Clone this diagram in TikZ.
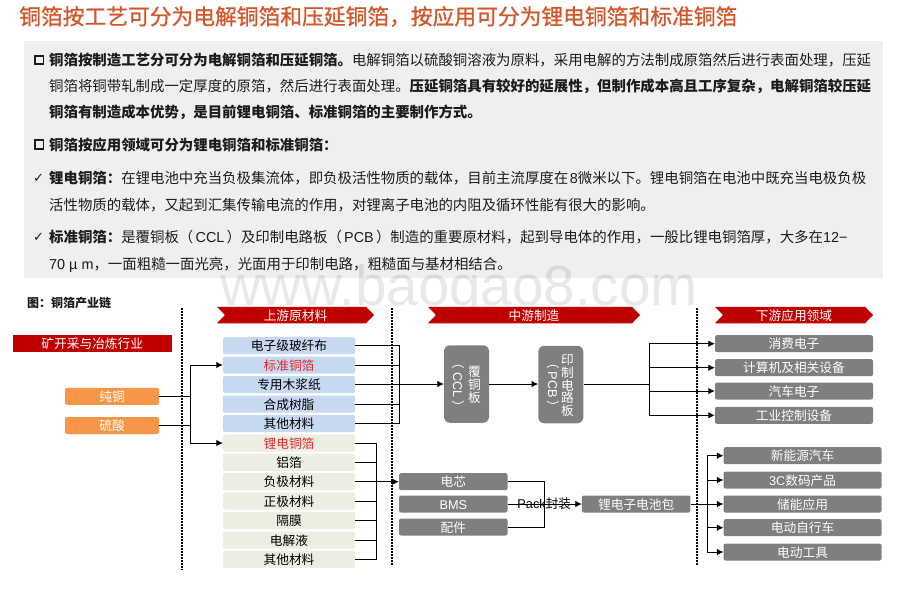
\documentclass[tikz,border=0pt]{standalone}
\usepackage{fontspec}
\setmainfont{Noto Sans CJK SC}
\newfontfamily\latinwm{Liberation Sans}
\newfontfamily\tickfont{DejaVu Sans}
\newfontfamily\headfont[FakeBold=0.9]{Noto Sans CJK SC}
\newcommand{\lat}[1]{{\latinwm #1}}
\usetikzlibrary{arrows.meta,shapes.symbols}
\definecolor{titleorange}{HTML}{D2582B}
\definecolor{panelgrey}{HTML}{EFEFEF}
\definecolor{darkred}{HTML}{C00000}
\definecolor{oreorange}{HTML}{F79646}
\definecolor{upblue}{HTML}{C6D9F1}
\definecolor{upgreen}{HTML}{EBEEE0}
\definecolor{midgrey}{HTML}{7F7F7F}
\definecolor{foilred}{HTML}{E8282B}
\definecolor{bodyink}{HTML}{1C1C1C}
\tikzset{
    bodyline/.style={anchor=west, inner sep=0pt, text=bodyink, text height=13pt, text depth=2pt, font=\fontsize{14.42}{16}\selectfont},
    squaremark/.style={draw=bodyink, line width=1.8pt, minimum size=8.5pt, inner sep=0pt},
    tickmark/.style={inner sep=0pt, text=bodyink, font=\tickfont\fontsize{13}{14}\selectfont},
    boxitem/.style={rounded corners=2pt, inner sep=0pt, minimum height=17pt, text height=11.5pt, text depth=1.5pt, font=\fontsize{12.7}{14}\selectfont},
    blueitem/.style={boxitem, fill=upblue, text=black, minimum width=132pt},
    greenitem/.style={boxitem, fill=upgreen, text=black, minimum width=132pt},
    oreitem/.style={boxitem, fill=oreorange, text=white, minimum width=94pt},
    minebar/.style={boxitem, rounded corners=0pt, fill=darkred, text=white, minimum width=158.5pt},
    banner/.style={signal, signal from=west, signal to=east, signal pointer angle=92, fill=darkred, text=white, inner sep=0pt, minimum height=16.5pt, text height=11.5pt, text depth=1.5pt, font=\fontsize{12.7}{14}\selectfont},
    greyitem/.style={boxitem, fill=midgrey, text=white, minimum width=158pt},
    cellitem/.style={boxitem, fill=midgrey, text=white, minimum width=108.5pt},
    boardbox/.style={fill=midgrey, rounded corners=6pt, minimum width=45pt, minimum height=77.5pt, inner sep=0pt},
    boardtext/.style={text=white, inner sep=0pt, align=center, font=\fontsize{12.7}{12.7}\selectfont},
    conn/.style={draw=black, line width=0.9pt},
    tipconn/.style={conn, -{Latex[length=6.5pt,width=6.5pt]}},
    stageline/.style={draw=black, line width=1.5pt, dash pattern=on 1.5pt off 1.5pt},
}
\begin{document}
\begin{tikzpicture}[x=1pt,y=-1pt]
    \useasboundingbox (0,0) rectangle (920,614);
    % heading and text panel
    \node[anchor=west, inner sep=0pt, text=titleorange, font=\headfont\fontsize{21.76}{24}\selectfont] (heading) at (19,16.5) {铜箔按工艺可分为电解铜箔和压延铜箔，按应用可分为锂电铜箔和标准铜箔};
    \fill[panelgrey] (24,41) rectangle (883,278);
    \node[anchor=base west, inner sep=0pt, text=black, opacity=0.09, font=\latinwm\fontsize{56.5}{60}\selectfont] (watermark) at (220,305) {www.baogao8.com};

    \node[squaremark] (markone) at (39.3,60) {};
    \node[bodyline] (lineone) at (49,60) {\textbf{铜箔按制造工艺分可分为电解铜箔和压延铜箔。}电解铜箔以硫酸铜溶液为原料，采用电解的方法制成原箔然后进行表面处理，压延};
    \node[bodyline] (linetwo) at (49,86) {铜箔将铜带轧制成一定厚度的原箔，然后进行表面处理。\textbf{压延铜箔具有较好的延展性，但制作成本高且工序复杂，电解铜箔较压延}};
    \node[bodyline] (linethree) at (49,112) {\textbf{铜箔有制造成本优势，是目前锂电铜箔、标准铜箔的主要制作方式。}};
    \node[squaremark] (marktwo) at (39.3,144.5) {};
    \node[bodyline] (linefour) at (49,144.5) {\textbf{铜箔按应用领域可分为锂电铜箔和标准铜箔：}};
    \node[tickmark] (tickone) at (38.5,178) {✓};
    \node[bodyline] (linefive) at (49,178) {\textbf{锂电铜箔：}在锂电池中充当负极集流体，即负极活性物质的载体，目前主流厚度在\hspace{1.5pt}\lat{8}微米以下。锂电铜箔在电池中既充当电极负极};
    \node[bodyline] (linesix) at (49,204.5) {活性物质的载体，又起到汇集传输电流的作用，对锂离子电池的内阻及循环性能有很大的影响。};
    \node[tickmark] (ticktwo) at (38.5,237) {✓};
    \node[bodyline] (lineseven) at (49,237) {\textbf{标准铜箔：}是覆铜板（\hspace{2.2pt}\lat{CCL}\hspace{2.2pt}）及印制电路板（\hspace{2.2pt}\lat{PCB}\hspace{2.2pt}）制造的重要原材料，起到导电体的作用，一般比锂电铜箔厚，大多在\lat{12−}};
    \node[bodyline] (lineeight) at (49,263.5) {\lat{70 µ m}，一面粗糙一面光亮，光面用于印制电路，粗糙面与基材相结合。};

    % chain: stage separators and banners
    \node[anchor=west, inner sep=0pt, text=bodyink, font=\bfseries\fontsize{12}{14}\selectfont] (chaintitle) at (27,302.5) {图：铜箔产业链};
    \coordinate (sepatop) at (182,308);
    \coordinate (sepabot) at (182,570);
    \coordinate (sepbtop) at (392,308);
    \coordinate (sepbbot) at (392,565);
    \coordinate (sepctop) at (697,308);
    \coordinate (sepcbot) at (697,565);
    \draw[stageline] (sepatop) -- (sepabot);
    \draw[stageline] (sepbtop) -- (sepbbot);
    \draw[stageline] (sepctop) -- (sepcbot);
    \node[banner, minimum width=157pt] (upstage) at (295.5,315) {上游原材料};
    \node[banner, minimum width=212pt] (midstage) at (534,315) {中游制造};
    \node[banner, minimum width=158pt] (downstage) at (794,315) {下游应用领域};

    % upstream
    \node[minebar] (mining) at (92.25,343.5) {矿开采与冶炼行业};
    \node[oreitem] (purecu) at (112,396.3) {纯铜};
    \node[oreitem] (acid) at (112,425.5) {硫酸};
    \node[blueitem] (glasscloth) at (289,345.7) {电子级玻纤布};
    \node[blueitem] (stdfoil) at (289,365) {\textcolor{foilred}{标准铜箔}};
    \node[blueitem] (woodpulp) at (289,384.5) {专用木浆纸};
    \node[blueitem] (resin) at (289,404) {合成树脂};
    \node[blueitem] (blueother) at (289,423.5) {其他材料};
    \node[greenitem] (lifoil) at (289,443) {\textcolor{foilred}{锂电铜箔}};
    \node[greenitem] (alfoil) at (289,462.3) {铝箔};
    \node[greenitem] (anode) at (289,481.7) {负极材料};
    \node[greenitem] (cathode) at (289,501) {正极材料};
    \node[greenitem] (separator) at (289,520.5) {隔膜};
    \node[greenitem] (electrolyte) at (289,540) {电解液};
    \node[greenitem] (greenother) at (289,559.3) {其他材料};

    % midstream
    \node[boardbox] (ccl) at (466.5,384) {};
    \node[boardtext, rotate=-90] (ccllabel) at (458,385) {（ \lat{CCL} ）};
    \node[boardtext] (ccltext) at (474.5,385) {覆\\铜\\板};
    \node[boardbox] (pcb) at (560.8,384.5) {};
    \node[boardtext, rotate=-90] (pcblabel) at (553,385) {（ \lat{PCB} ）};
    \node[boardtext] (pcbtext) at (567.5,385.5) {印\\制\\电\\路\\板};
    \node[cellitem] (cell) at (453.3,481.7) {电芯};
    \node[cellitem] (bms) at (453.3,504) {\lat{BMS}};
    \node[cellitem] (parts) at (453.3,527) {配件};
    \node[cellitem] (pack) at (636.2,504) {锂电子电池包};

    % downstream
    \node[greyitem] (consumer) at (794,343.7) {消费电子};
    \node[greyitem] (computer) at (794,367.7) {计算机及相关设备};
    \node[greyitem] (carelec) at (794,391) {汽车电子};
    \node[greyitem] (control) at (794,415.3) {工业控制设备};
    \node[greyitem] (newcar) at (802.6,455.7) {新能源汽车};
    \node[greyitem] (threec) at (802.6,480) {\lat{3C}数码产品};
    \node[greyitem] (storage) at (802.6,504) {储能应用};
    \node[greyitem] (ebike) at (802.6,527.7) {电动自行车};
    \node[greyitem] (tools) at (802.6,552) {电动工具};

    % connectors
    \coordinate (orebus) at (190.5,396);
    \draw[conn] (purecu.east) -- (purecu.east -| orebus);
    \draw[conn] (acid.east) -- (acid.east -| orebus);
    \draw[tipconn] (purecu.east -| orebus) |- (stdfoil.west);
    \draw[tipconn] (acid.east -| orebus) |- (lifoil.west);
    \draw[conn] (purecu.east -| orebus) -- (acid.east -| orebus);

    \coordinate (bluebus) at (399.5,384);
    \draw[conn] (glasscloth.east) -| (bluebus);
    \draw[conn] (blueother.east) -| (bluebus);
    \draw[conn] (stdfoil.east) -- (stdfoil.east -| bluebus);
    \draw[conn] (woodpulp.east) -- (woodpulp.east -| bluebus);
    \draw[conn] (resin.east) -- (resin.east -| bluebus);
    \draw[tipconn] (bluebus) -- (ccl.west);
    \draw[tipconn] (ccl.east) -- (pcb.west |- ccl.east);

    \coordinate (pcbbus) at (649,384);
    \draw[conn] (pcb.east |- pcbbus) -- (pcbbus);
    \draw[tipconn] (pcbbus) |- (consumer.west);
    \draw[tipconn] (pcbbus) |- (computer.west);
    \draw[tipconn] (pcbbus) |- (carelec.west);
    \draw[tipconn] (pcbbus) |- (control.west);

    \coordinate (greenbus) at (376.7,481.7);
    \draw[conn] (lifoil.east) -| (greenbus);
    \draw[conn] (greenother.east) -| (greenbus);
    \draw[conn] (alfoil.east) -- (alfoil.east -| greenbus);
    \draw[conn] (anode.east) -- (greenbus);
    \draw[conn] (cathode.east) -- (cathode.east -| greenbus);
    \draw[conn] (separator.east) -- (separator.east -| greenbus);
    \draw[conn] (electrolyte.east) -- (electrolyte.east -| greenbus);
    \draw[tipconn] (greenbus) -- (cell.west);

    \coordinate (cellbus) at (544.3,504);
    \draw[conn] (cell.east) -| (cellbus);
    \draw[conn] (parts.east) -| (cellbus);
    \draw[tipconn] (bms.east) -- (pack.west);
    \node[inner sep=0pt, text=black, font=\fontsize{12.7}{14}\selectfont] (packlabel) at (544.3,504) {\lat{Pack}封装};

    \coordinate (packbus) at (707,504);
    \draw[conn] (pack.east) -- (packbus);
    \draw[tipconn] (packbus) |- (newcar.west);
    \draw[tipconn] (packbus) |- (threec.west);
    \draw[tipconn] (packbus) -- (storage.west);
    \draw[tipconn] (packbus) |- (ebike.west);
    \draw[tipconn] (packbus) |- (tools.west);
\end{tikzpicture}
\end{document}
